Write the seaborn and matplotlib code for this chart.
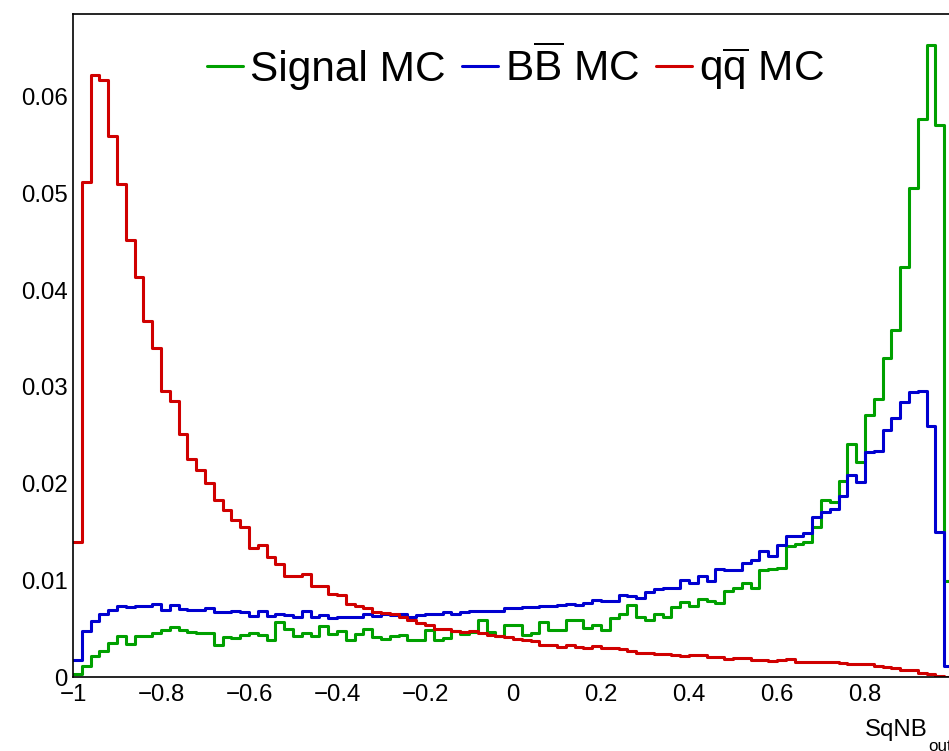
import numpy as np
import pandas as pd
import matplotlib
matplotlib.use("Agg")
import matplotlib.pyplot as plt
from matplotlib.lines import Line2D
from matplotlib.ticker import MultipleLocator
import seaborn as sns

# ---------------- data (bin contents, 100 bins on [-1, 1]) ----------------
signal_mc = [0.0003, 0.0011, 0.0022, 0.0027, 0.0035, 0.0042, 0.0034, 0.0042, 0.0042, 0.0045,
             0.0049, 0.0052, 0.0049, 0.0047, 0.0045, 0.0045, 0.0033, 0.0041, 0.0040, 0.0043,
             0.0045, 0.0043, 0.0038, 0.0057, 0.0050, 0.0042, 0.0045, 0.0042,
             0.0053, 0.0044, 0.0048, 0.0038, 0.0044, 0.0050, 0.0041, 0.0039, 0.0042, 0.0043,
             0.0038, 0.0038, 0.0049, 0.0038, 0.0040, 0.0048, 0.0044, 0.0047, 0.0059, 0.0047,
             0.0042, 0.0054, 0.0054, 0.0043, 0.0046, 0.0057,
             0.0049, 0.0049, 0.0059, 0.0059, 0.0051, 0.0054, 0.0049, 0.0061, 0.0065, 0.0074,
             0.0062, 0.0059, 0.0065, 0.0062, 0.0072, 0.0078, 0.0073, 0.0081, 0.0079, 0.0077,
             0.0089, 0.0092, 0.0097, 0.0092,
             0.0111, 0.0112, 0.0113, 0.0136, 0.0138, 0.0140, 0.0155, 0.0183, 0.0181, 0.0203,
             0.0241, 0.0222, 0.0271, 0.0288, 0.0330, 0.0359, 0.0424, 0.0506, 0.0577, 0.0654,
             0.0571, 0.0099]

bb_mc = [0.0018, 0.0048, 0.0058, 0.0065, 0.0069, 0.0073, 0.0072, 0.0073, 0.0073, 0.0075,
         0.0069, 0.0074, 0.0070, 0.0069, 0.0069, 0.0071, 0.0067, 0.0067, 0.0068, 0.0067,
         0.0063, 0.0068, 0.0063, 0.0065, 0.0064, 0.0062, 0.0068, 0.0062,
         0.0064, 0.0061, 0.0062, 0.0062, 0.0062, 0.0065, 0.0063, 0.0065, 0.0064, 0.0065,
         0.0062, 0.0064, 0.0065, 0.0065, 0.0067, 0.0065, 0.0067, 0.0068, 0.0068, 0.0068,
         0.0068, 0.0071, 0.0071, 0.0072, 0.0072, 0.0073,
         0.0073, 0.0074, 0.0075, 0.0074, 0.0077, 0.0080, 0.0079, 0.0079, 0.0085, 0.0084,
         0.0082, 0.0088, 0.0091, 0.0092, 0.0092, 0.0100, 0.0097, 0.0104, 0.0099, 0.0112,
         0.0111, 0.0111, 0.0118, 0.0121,
         0.0130, 0.0125, 0.0137, 0.0146, 0.0146, 0.0149, 0.0165, 0.0171, 0.0174, 0.0187,
         0.0209, 0.0202, 0.0233, 0.0234, 0.0255, 0.0268, 0.0284, 0.0295, 0.0296, 0.0260,
         0.0150, 0.0011]

qq_mc = [0.0140, 0.0512, 0.0623, 0.0618, 0.0560, 0.0510, 0.0452, 0.0414, 0.0368, 0.0340,
         0.0296, 0.0286, 0.0251, 0.0226, 0.0214, 0.0201, 0.0183, 0.0173, 0.0162, 0.0155,
         0.0133, 0.0137, 0.0124, 0.0117, 0.0104, 0.0104, 0.0107, 0.0094, 0.0094, 0.0086,
         0.0085, 0.0076, 0.0073, 0.0071, 0.0067, 0.0066, 0.0065, 0.0062, 0.0059, 0.0056,
         0.0054, 0.0050, 0.0050, 0.0048, 0.0047, 0.0048, 0.0045, 0.0043, 0.0042, 0.0041,
         0.0039, 0.0038, 0.0037, 0.0033, 0.0033, 0.0031, 0.0033, 0.0031, 0.0030, 0.0032,
         0.0030, 0.0030, 0.0029, 0.0027, 0.0025, 0.0025, 0.0024, 0.0024, 0.0023, 0.0022,
         0.0023, 0.0023, 0.0021, 0.0021, 0.0019, 0.0020, 0.0020, 0.0018, 0.0018, 0.0017,
         0.0018, 0.0019, 0.0016, 0.0016, 0.0016, 0.0016, 0.0015, 0.0014, 0.0013, 0.0013,
         0.0013, 0.0011, 0.0010, 0.0009, 0.0007, 0.0007, 0.0004, 0.0003, 0.0001, 0.00005]

series_labels = ["Signal MC", r"B$\overline{\mathrm{B}}$ MC", r"q$\overline{\mathrm{q}}$ MC"]
x_ticks = [-1.0, -0.8, -0.6, -0.4, -0.2, 0.0, 0.2, 0.4, 0.6, 0.8]
x_tick_labels = ["\u22121", "\u22120.8", "\u22120.6", "\u22120.4", "\u22120.2", "0", "0.2", "0.4", "0.6", "0.8"]
y_ticks = [0.0, 0.01, 0.02, 0.03, 0.04, 0.05, 0.06]
y_tick_labels = ["0", "0.01", "0.02", "0.03", "0.04", "0.05", "0.06"]
x_title = "SqNB"
x_title_sub = "out"

# ---------------- style ----------------
sns.set_style("white")
plt.rcParams["font.family"] = ["Liberation Sans", "DejaVu Sans"]
plt.rcParams["mathtext.fontset"] = "custom"
plt.rcParams["mathtext.rm"] = "Liberation Sans"
plt.rcParams["mathtext.it"] = "Liberation Sans:italic"
plt.rcParams["mathtext.bf"] = "Liberation Sans:bold"
plt.rcParams["text.color"] = "black"
plt.rcParams["axes.labelcolor"] = "black"
plt.rcParams["xtick.color"] = "black"
plt.rcParams["ytick.color"] = "black"

colors = ["#00a000", "#0000d0", "#d00000"]
nbins = len(qq_mc)
edges = np.linspace(-1.0, 1.0, nbins + 1)
centers = 0.5 * (edges[:-1] + edges[1:])

W, H = 949, 751
fig = plt.figure(figsize=(W / 100, H / 100), dpi=100)
ax = fig.add_axes([73 / W, (H - 677) / H, 880 / W, 663 / H])

for vals, col in zip([signal_mc, bb_mc, qq_mc], colors):
    df = pd.DataFrame({"x": centers, "w": vals})
    sns.histplot(data=df, x="x", weights="w", bins=[float(e) for e in edges],
                 element="step", fill=False, color=col, linewidth=2.2, ax=ax)

ax.set_xlim(-1.0, 1.0)
ax.set_ylim(0, 663 / 9667)
ax.set_xlabel("")
ax.set_ylabel("")

ax.set_xticks(x_ticks)
ax.set_xticklabels(x_tick_labels)
ax.set_yticks(y_ticks)
ax.set_yticklabels(y_tick_labels)
ax.xaxis.set_minor_locator(MultipleLocator(0.05))
ax.yaxis.set_minor_locator(MultipleLocator(0.002))
ax.tick_params(axis="x", which="major", direction="in", length=13.7, width=1.0,
               labelsize=17.3, pad=5, top=False, colors="black")
ax.tick_params(axis="x", which="minor", direction="in", length=6.8, width=1.0, top=False)
ax.tick_params(axis="y", which="major", direction="in", length=19, width=1.0,
               labelsize=17.3, pad=4, right=False, colors="black")
ax.tick_params(axis="y", which="minor", direction="in", length=9.5, width=1.0, right=False)
for s in ax.spines.values():
    s.set_color("black")
    s.set_linewidth(1.2)

# axis title "SqNB_out" (right aligned at the axis end, cut by the canvas edge)
fig.text(928 / W, (H - 736) / H, x_title, ha="right", va="baseline", fontsize=17.3,
         color="black")
fig.text(928 / W, (H - 751) / H, x_title_sub, ha="left", va="baseline", fontsize=12.2,
         color="black")

handles = [Line2D([0], [0], color=c, lw=2.2) for c in colors]
leg = ax.legend(handles, series_labels, loc="center", bbox_to_anchor=(0.503, 0.918),
                ncol=3, frameon=False, fontsize=30.5, handlelength=0.85,
                handletextpad=0.165, columnspacing=0.38, borderpad=0, borderaxespad=0,
                labelcolor="black")

fig.savefig("out.png", dpi=100)
